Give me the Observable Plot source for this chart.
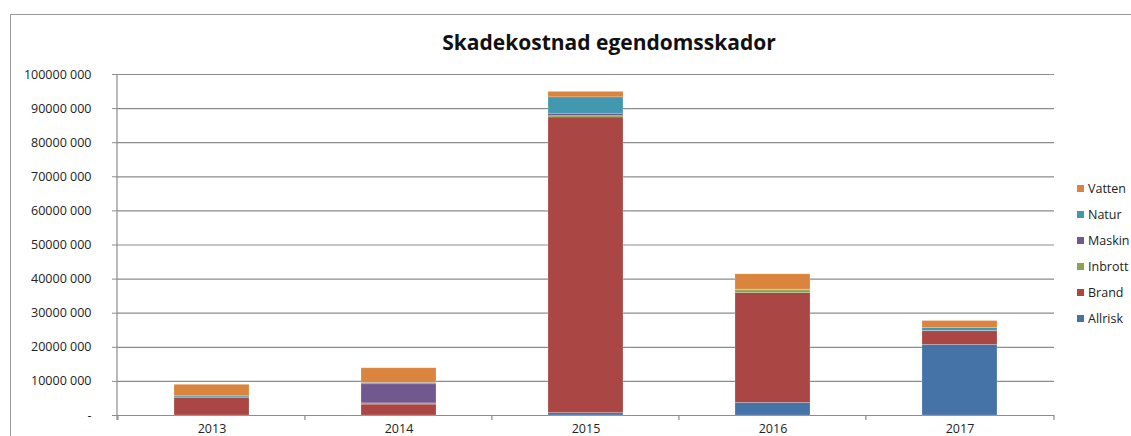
<!DOCTYPE html>
<html>
<head>
<meta charset="utf-8">
<script src="https://cdn.jsdelivr.net/npm/d3@7"></script>
<script src="https://cdn.jsdelivr.net/npm/@observablehq/plot@0.6"></script>
<style>
  html, body { margin: 0; padding: 0; background: #fff; }
  #wrap { position: relative; width: 1131px; height: 436px; overflow: hidden; font-family: "Open Sans", sans-serif; }
  #frame { position: absolute; left: 10px; top: 14px; width: 1140px; height: 440px; border-top: 1.5px solid #9a9a9a; border-left: 1.5px solid #9a9a9a; box-sizing: border-box; }
  #title { position: absolute; left: 0; width: 1218px; top: 28px; text-align: center; font-size: 21px; font-weight: 700; color: #111; }
  #legend { position: absolute; left: 1077px; top: 0; }
  .li { position: absolute; white-space: nowrap; font-size: 12.5px; color: #222; display: flex; align-items: center; }
  .sw { width: 7px; height: 7px; margin-right: 4px; display: inline-block; }
  #chart { position: absolute; left: 0; top: 0; }
</style>
</head>
<body>
<div id="wrap">
  <div id="chart"></div>
  <div id="frame"></div>
  <div id="title"></div>
  <div id="legend"></div>
</div>
<script>
const title = "Skadekostnad egendomsskador";
const years = ["2013", "2014", "2015", "2016", "2017"];
const types = ["Allrisk", "Brand", "Inbrott", "Maskin", "Natur", "Vatten"];
const colors = ["#4572A7", "#AA4643", "#89A54E", "#71588F", "#4198AF", "#DB843D"];
// values in kronor
const allrisk = [0, 0, 700000, 3700000, 20700000];
const brand   = [5100000, 3200000, 86700000, 32200000, 4000000];
const inbrott = [0, 350000, 400000, 800000, 0];
const maskin  = [200000, 5600000, 700000, 100000, 100000];
const natur   = [500000, 400000, 4800000, 100000, 900000];
const vatten  = [3200000, 4300000, 1600000, 4500000, 2000000];
const yTicks = [0, 10000000, 20000000, 30000000, 40000000, 50000000, 60000000, 70000000, 80000000, 90000000, 100000000];
const yTickLabels = ["-", "10000 000", "20000 000", "30000 000", "40000 000", "50000 000", "60000 000", "70000 000", "80000 000", "90000 000", "100000 000"];

const series = [allrisk, brand, inbrott, maskin, natur, vatten];
const data = [];
years.forEach((y, i) => types.forEach((t, j) => data.push({year: y, type: t, value: series[j][i]})));

const PAD_IN = 0.6, PAD_OUT = 0.3;

// y-axis line and category-boundary ticks, positioned through the plot's own scales
const decor = (index, scales, values, dims) => {
  const g = d3.create("svg:g");
  const x0 = dims.marginLeft, x1 = dims.width - dims.marginRight;
  const y0 = scales.y(0), yTop = scales.y(yTicks[yTicks.length - 1]);
  const starts = years.map(y => scales.x(y));
  const step = (starts[starts.length - 1] - starts[0]) / (years.length - 1);
  const xs = starts.map(s => s - PAD_OUT * step);
  xs.push(x1);
  g.append("line").attr("x1", x0).attr("x2", x0).attr("y1", yTop).attr("y2", y0 + 5)
    .attr("stroke", "#8c8c8c").attr("stroke-width", 1.2);
  xs.forEach(x => g.append("line").attr("x1", x).attr("x2", x).attr("y1", y0).attr("y2", y0 + 5)
    .attr("stroke", "#8c8c8c").attr("stroke-width", 1.2));
  return g.node();
};

const plot = Plot.plot({
  width: 1131,
  height: 436,
  marginLeft: 117,
  marginRight: 77,
  marginTop: 74,
  marginBottom: 21,
  style: {fontFamily: "Open Sans, sans-serif", fontSize: "12.5px", color: "#222", background: "transparent", overflow: "visible"},
  x: {domain: years, paddingInner: PAD_IN, paddingOuter: PAD_OUT, label: null},
  y: {domain: [0, 100000000], label: null},
  color: {domain: types, range: colors},
  marks: [
    Plot.ruleY(yTicks, {stroke: "#8c8c8c", strokeWidth: 1.2}),
    Plot.barY(data, Plot.stackY({x: "year", y: "value", fill: "type", order: types, stroke: "#fff", strokeOpacity: 0.35, strokeWidth: 0.6})),
    Plot.axisY({ticks: yTicks, tickFormat: (d, i) => yTickLabels[i], tickSize: 5, tickPadding: 21, stroke: "#8c8c8c", fontSize: 12.5}),
    Plot.axisX({tickSize: 0, tickPadding: 9, fontSize: 12.5}),
    decor
  ]
});
document.getElementById("chart").appendChild(plot);

document.getElementById("title").textContent = title;
const legend = document.getElementById("legend");
const rowTop = [189, 215, 241, 267, 293, 319];
types.slice().reverse().forEach((t, k) => {
  const div = document.createElement("div");
  div.className = "li";
  div.style.top = (rowTop[k] - 9) + "px";
  div.innerHTML = `<span class="sw" style="background:${colors[types.indexOf(t)]}"></span>${t}`;
  legend.appendChild(div);
});
</script>
</body>
</html>
